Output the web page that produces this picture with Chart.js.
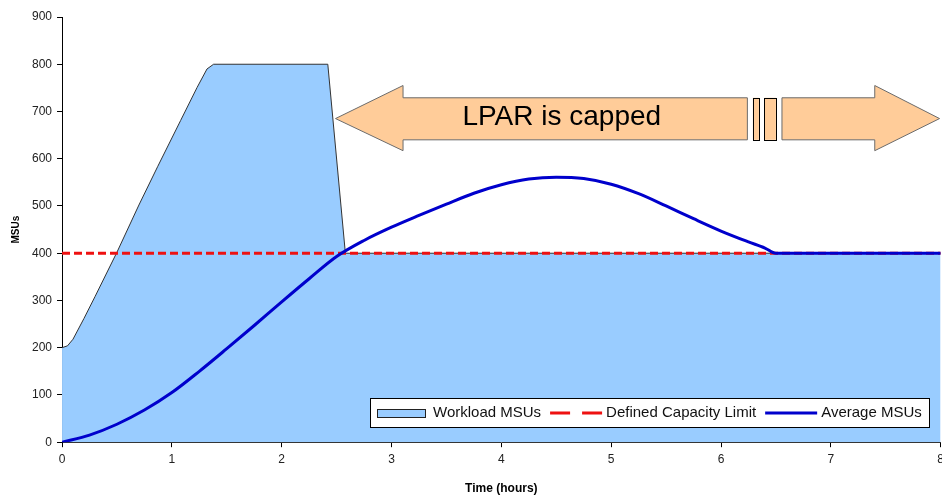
<!DOCTYPE html>
<html>
<head>
<meta charset="utf-8">
<script src="https://cdn.jsdelivr.net/npm/chart.js@4/dist/chart.umd.min.js"></script>
<style>
  html, body { margin: 0; padding: 0; background: #fff; overflow: hidden; }
  #wrap { width: 949px; height: 498px; }
</style>
</head>
<body>
<div id="wrap"><canvas id="chart" width="949" height="498"></canvas></div>
<script>
// Workload MSUs (area)
var workloadHours = [0, 0.05, 0.1, 0.2, 0.3, 0.5, 0.7, 0.87, 1.08, 1.23, 1.32, 1.38, 2.42, 2.58, 8];
var workloadMsus  = [200, 204, 218, 262, 308, 402, 502, 583, 681, 751, 790, 800, 800, 400, 400];

// Defined Capacity Limit
var capacityHours = [0, 8];
var capacityMsus  = [400, 400];

// Average MSUs (rolling average)
var averageHours = [0, 0.25, 0.5, 0.75, 1, 1.25, 1.5, 1.75, 2, 2.25, 2.5, 2.75, 3, 3.25, 3.5,
                    3.75, 4, 4.25, 4.5, 4.75, 5, 5.25, 5.5, 5.75, 6, 6.25, 6.4, 6.5, 7, 7.5, 8];
var averageMsus  = [0, 15, 38, 68, 105, 150, 198, 247, 297, 346, 393, 427, 455, 480, 504,
                    527, 545, 557, 561, 558, 546, 526, 500, 473, 447, 424, 411, 400, 400, 400, 400];

var seriesLabels = ['Workload MSUs', 'Defined Capacity Limit', 'Average MSUs'];
var noteText = 'LPAR is capped';

// annotation arrow, in chart units (hours / MSUs)
var Note = {
    tipL: 2.49, headL: 3.105, breakStart: 6.24, breakEnd: 6.555, headR: 7.40, tipR: 7.99,
    stubs: [[6.29, 6.345], [6.395, 6.50]],
    mid: 685, headTop: 755, headBottom: 617, bodyTop: 729, bodyBottom: 640,
    textAt: 4.55
};

function toPoints(xs, ys) {
    var pts = [];
    for (var i = 0; i < xs.length; ++i) {
        pts.push({x: xs[i], y: ys[i]});
    }
    return pts;
}

var FONT = '"Liberation Sans", Arial, sans-serif';
Chart.defaults.font.family = FONT;
Chart.defaults.color = '#222';

var arrowNote = {
    id: 'arrowNote',
    afterDatasetsDraw: function(chart) {
        var ctx = chart.ctx;
        var xs = chart.scales.x, ys = chart.scales.y;
        var px = function(h) { return xs.getPixelForValue(h); };
        var py = function(v) { return ys.getPixelForValue(v); };

        ctx.save();
        ctx.fillStyle = '#FFCC99';
        ctx.strokeStyle = '#6b6b6b';
        ctx.lineWidth = 1;

        // left piece
        ctx.beginPath();
        ctx.moveTo(px(Note.tipL), py(Note.mid));
        ctx.lineTo(px(Note.headL), py(Note.headTop));
        ctx.lineTo(px(Note.headL), py(Note.bodyTop));
        ctx.lineTo(px(Note.breakStart), py(Note.bodyTop));
        ctx.lineTo(px(Note.breakStart), py(Note.bodyBottom));
        ctx.lineTo(px(Note.headL), py(Note.bodyBottom));
        ctx.lineTo(px(Note.headL), py(Note.headBottom));
        ctx.closePath();
        ctx.fill();
        ctx.stroke();

        // right piece
        ctx.beginPath();
        ctx.moveTo(px(Note.breakEnd), py(Note.bodyTop));
        ctx.lineTo(px(Note.headR), py(Note.bodyTop));
        ctx.lineTo(px(Note.headR), py(Note.headTop));
        ctx.lineTo(px(Note.tipR), py(Note.mid));
        ctx.lineTo(px(Note.headR), py(Note.headBottom));
        ctx.lineTo(px(Note.headR), py(Note.bodyBottom));
        ctx.lineTo(px(Note.breakEnd), py(Note.bodyBottom));
        ctx.closePath();
        ctx.fill();
        ctx.stroke();

        // little stubs in the break
        ctx.strokeStyle = '#000';
        Note.stubs.forEach(function(s) {
            var x0 = px(s[0]), x1 = px(s[1]);
            var y0 = py(Note.bodyTop), y1 = py(Note.bodyBottom);
            ctx.fillRect(x0, y0, x1 - x0, y1 - y0);
            ctx.strokeRect(Math.round(x0) + 0.5, Math.round(y0) + 0.5, Math.round(x1 - x0), Math.round(y1 - y0));
        });

        ctx.fillStyle = '#000';
        ctx.font = '28px ' + FONT;
        ctx.textAlign = 'center';
        ctx.textBaseline = 'middle';
        ctx.fillText(noteText, px(Note.textAt), py(Note.mid) - 1);
        ctx.restore();
    }
};

var boxLegend = {
    id: 'boxLegend',
    afterDraw: function(chart) {
        var ctx = chart.ctx, area = chart.chartArea;
        var ds = chart.data.datasets;
        var swatchW = 52, gap = 4, itemGap = 9, pad = 7, h = 29;

        ctx.save();
        ctx.font = '15px ' + FONT;
        var total = pad * 2;
        ds.forEach(function(d, i) {
            total += swatchW + gap + ctx.measureText(d.label).width + (i > 0 ? itemGap : 0);
        });
        total = Math.round(total);
        var right = Math.round(area.right - 12), bottom = Math.round(area.bottom - 15);
        var left = right - total, top = bottom - h;

        ctx.fillStyle = '#fff';
        ctx.fillRect(left, top, total, h);
        ctx.strokeStyle = '#000';
        ctx.lineWidth = 1;
        ctx.strokeRect(left + 0.5, top + 0.5, total, h);

        var x = left + pad, cy = top + h / 2 + 0.5;
        ds.forEach(function(d, i) {
            if (i > 0) x += itemGap;
            if (d.fill) {
                ctx.fillStyle = d.backgroundColor;
                ctx.fillRect(x, cy - 4, swatchW - 4, 8);
                ctx.strokeStyle = '#222';
                ctx.lineWidth = 1;
                ctx.strokeRect(Math.round(x) + 0.5, Math.round(cy - 4) + 0.5, swatchW - 4, 8);
            } else {
                ctx.strokeStyle = d.borderColor;
                ctx.lineWidth = 3;
                ctx.setLineDash(d.borderDash ? [20, 12] : []);
                ctx.beginPath();
                ctx.moveTo(x, cy);
                ctx.lineTo(x + swatchW, cy);
                ctx.stroke();
                ctx.setLineDash([]);
            }
            x += swatchW + gap;
            ctx.fillStyle = '#111';
            ctx.textAlign = 'left';
            ctx.textBaseline = 'middle';
            ctx.fillText(d.label, x, cy);
            x += ctx.measureText(d.label).width;
        });
        ctx.restore();
    }
};

new Chart(document.getElementById('chart'), {
    type: 'line',
    data: {
        datasets: [{
            label: seriesLabels[0],
            data: toPoints(workloadHours, workloadMsus),
            backgroundColor: '#99CCFF',
            borderColor: '#333',
            borderWidth: 1,
            fill: 'origin',
            tension: 0,
            pointRadius: 0,
            order: 3
        }, {
            label: seriesLabels[1],
            data: toPoints(capacityHours, capacityMsus),
            borderColor: '#EE1111',
            borderWidth: 3,
            borderDash: [8, 4],
            fill: false,
            pointRadius: 0,
            order: 2
        }, {
            label: seriesLabels[2],
            data: toPoints(averageHours, averageMsus),
            borderColor: '#0000CC',
            borderWidth: 3,
            fill: false,
            cubicInterpolationMode: 'monotone',
            pointRadius: 0,
            order: 1
        }]
    },
    options: {
        responsive: false,
        animation: false,
        devicePixelRatio: 1,
        layout: { padding: { top: 17, left: 0, right: 0, bottom: 0 } },
        plugins: {
            legend: { display: false },
            tooltip: { enabled: false }
        },
        scales: {
            x: {
                type: 'linear',
                min: 0,
                max: 8,
                ticks: { stepSize: 1, maxRotation: 0, padding: 5, font: { size: 12 } },
                grid: { drawOnChartArea: false, drawTicks: true, tickLength: 5, tickColor: '#000' },
                border: { display: true, color: '#333', width: 1 },
                title: { display: true, text: 'Time (hours)', font: { size: 12, weight: 'bold' }, padding: { top: 10, bottom: 2 }, color: '#000' }
            },
            y: {
                min: 0,
                max: 900,
                ticks: { stepSize: 100, padding: 5, font: { size: 12 } },
                grid: { drawOnChartArea: false, drawTicks: true, tickLength: 5, tickColor: '#000' },
                border: { display: true, color: '#000', width: 1 },
                title: { display: true, text: 'MSUs', font: { size: 10, weight: 'bold' }, padding: { top: 10, bottom: 5 }, color: '#000' }
            }
        }
    },
    plugins: [arrowNote, boxLegend]
});
</script>
</body>
</html>
